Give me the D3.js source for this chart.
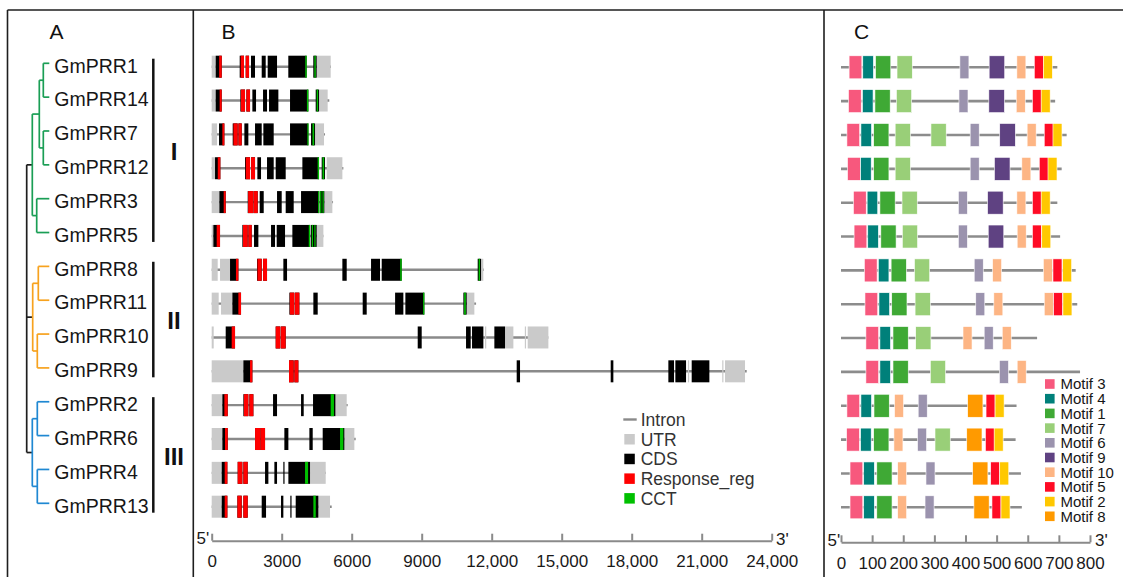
<!DOCTYPE html>
<html><head><meta charset="utf-8">
<script src="https://cdn.jsdelivr.net/npm/d3@7"></script>
<style>
body{margin:0;background:#fff}
svg{display:block}
text{font-family:"Liberation Sans",Arial,Helvetica,sans-serif}
</style>
</head><body>
<svg id="fig" width="1123" height="577"></svg>
<script>
// ---------------- data ----------------
const genes = ["GmPRR1","GmPRR14","GmPRR7","GmPRR12","GmPRR3","GmPRR5","GmPRR8",
               "GmPRR11","GmPRR10","GmPRR9","GmPRR2","GmPRR6","GmPRR4","GmPRR13"];

// phylogeny with branch lengths
const newick = "((((GmPRR1:6,GmPRR14:6):4,(GmPRR7:6,GmPRR12:6):4):7,(GmPRR3:12.6,GmPRR5:12.6):4.4):5.6," +
               "((GmPRR8:11,GmPRR11:11):5.6,(GmPRR10:12,GmPRR9:12):4.6):6," +
               "((GmPRR2:12,GmPRR6:12):5,(GmPRR4:12,GmPRR13:12):5):5.6);";

const cladeNames = ["I","II","III"];
const cladeMembers = [
  ["GmPRR1","GmPRR14","GmPRR7","GmPRR12","GmPRR3","GmPRR5"],
  ["GmPRR8","GmPRR11","GmPRR10","GmPRR9"],
  ["GmPRR2","GmPRR6","GmPRR4","GmPRR13"]
];

// gene structures (bp)
const geneLength = [5113,5040,4857,5643,5200,4786,11657,11330,14426,22929,5829,6171,4886,5143];

const utrRegions = [
  [[0,171],[4500,5100]],
  [[0,171],[4600,4970]],
  [[0,229],[4429,4814]],
  [[0,143],[4929,5600]],
  [[0,329],[4829,5171]],
  [[0,71],[4500,4786]],
  [[0,257],[357,786],[11543,11640]],
  [[0,300],[400,886],[10929,11257]],
  [[0,86],[11715,11750],[12571,12929],[13420,13455],[13543,14429]],
  [[0,1357],[20410,20450],[21880,21920],[22000,22857]],
  [[0,457],[5286,5786]],
  [[0,457],[5686,6114]],
  [[0,429],[4214,4886]],
  [[0,429],[4571,5071]]
];

const cdsRegions = [
  [[171,430],[1200,1384],[1457,1600],[1684,1856],[2143,2314],[2400,2800],[3283,4071],[4354,4500]],
  [[171,429],[1228,1428],[1486,1643],[1743,1900],[2200,2371],[2457,2857],[3357,4143],[4457,4600]],
  [[314,543],[900,1114],[1143,1286],[1400,1571],[1857,2143],[2214,2657],[3357,4143],[4257,4429]],
  [[143,371],[1428,1643],[1686,1857],[1957,2114],[2371,2657],[2743,3171],[3886,4600],[4714,4857]],
  [[329,600],[1543,1786],[1800,1971],[2057,2229],[2800,3000],[3171,3514],[3829,4600],[4629,4829]],
  [[71,357],[1314,1543],[1571,1714],[1814,2000],[2543,2714],[2786,3143],[3457,4214],[4243,4500]],
  [[786,1143],[1943,2143],[2200,2371],[3071,3229],[5600,5786],[6829,7214],[7286,8143],[11400,11543]],
  [[886,1257],[3329,3543],[3571,3757],[4357,4543],[6471,6643],[7860,8214],[8300,9114],[10786,10929]],
  [[600,1000],[2743,2943],[2971,3171],[8829,9000],[10900,11100],[11157,11643],[12114,12571]],
  [[1357,1743],[3314,3514],[3543,3714],[13071,13214],[17100,17214],[19571,19814],[19871,20329],[20571,21329]],
  [[457,686],[1357,1571],[1614,1786],[2629,2800],[3829,3943],[4343,5300]],
  [[457,686],[1857,2100],[2114,2286],[3114,3286],[4186,4329],[4757,5686]],
  [[429,671],[1114,1314],[1357,1543],[2286,2429],[2686,2800],[3070,3110],[3286,4214]],
  [[429,671],[1100,1286],[1357,1543],[2143,2329],[2971,3071],[3370,3410],[3600,4571]]
];

const responseRegRegions = [
  [[320,430],[1240,1384],[1457,1600]],
  [[340,429],[1250,1428],[1486,1643]],
  [[457,543],[930,1114],[1143,1286]],
  [[260,371],[1460,1643],[1686,1857]],
  [[514,600],[1560,1786],[1800,1971]],
  [[214,357],[1340,1543],[1571,1714]],
  [[1040,1143],[1960,2143],[2200,2371]],
  [[1143,1257],[3350,3543],[3571,3757]],
  [[857,1000],[2743,2943],[2971,3171]],
  [[1643,1743],[3314,3514],[3543,3714]],
  [[543,686],[1380,1571],[1614,1786]],
  [[570,686],[1857,2100],[2114,2286]],
  [[557,671],[1114,1314],[1357,1543]],
  [[557,671],[1100,1286],[1357,1543]]
];

const cctRegions = [
  [[4010,4071],[4400,4460]],
  [[4080,4143],[4500,4560]],
  [[4100,4143],[4320,4390]],
  [[4540,4600],[4750,4820]],
  [[4560,4600],[4650,4700],[4750,4790]],
  [[4160,4214],[4290,4330],[4400,4440]],
  [[8080,8143],[11440,11500]],
  [[9060,9114],[10820,10890]],
  [],
  [],
  [[5100,5240]],
  [[5500,5640]],
  [[4000,4130]],
  [[4357,4460]]
];

const geneTicks = [0,3000,6000,9000,12000,15000,18000,21000,24000];
const geneTickLabels = ["0","3000","6000","9000","12,000","15,000","18,000","21,000","24,000"];

// conserved motifs (aa)
const proteinLength = [695,688,725,709,695,704,754,759,630,768,564,561,578,581];
const motifOrder = [3,4,1,7,6,9,10,5,2,8];
const motifLength = {1:49,2:29,3:41,4:34,5:29,6:29,7:49,8:49,9:50,10:29};
const motifSites = [
  [[3,26],[4,70],[1,111],[7,180],[6,382],[9,476],[10,565],[5,621],[2,650]],
  [[3,24],[4,69],[1,109],[7,178],[6,379],[9,475],[10,563],[5,615],[2,643]],
  [[3,19],[4,64],[1,105],[7,174],[7,289],[6,415],[9,510],[10,598],[5,653],[2,681]],
  [[3,21],[4,63],[1,105],[7,174],[6,415],[9,493],[10,581],[5,637],[2,665]],
  [[3,40],[4,84],[1,125],[7,196],[6,377],[9,471],[10,565],[5,615],[2,643]],
  [[3,42],[4,86],[1,128],[7,197],[6,377],[9,473],[10,566],[5,615],[2,645]],
  [[3,75],[4,120],[1,161],[7,236],[6,428],[10,487],[10,650],[5,681],[2,712]],
  [[3,77],[4,122],[1,163],[7,238],[6,433],[10,491],[10,653],[5,683],[2,713]],
  [[3,80],[4,125],[1,167],[7,240],[10,392],[6,460],[10,518]],
  [[3,80],[4,125],[1,167],[7,287],[6,509],[10,566]],
  [[3,19],[4,64],[1,106],[10,172],[6,248],[8,407],[5,466],[2,495]],
  [[3,18],[4,63],[1,105],[10,170],[6,246],[7,302],[8,404],[5,464],[2,492]],
  [[3,29],[4,73],[1,115],[10,182],[6,273],[8,423],[5,481],[2,510]],
  [[3,29],[4,73],[1,115],[10,182],[6,270],[8,427],[5,485],[2,514]]
];
const motifTicks = [0,100,200,300,400,500,600,700,800];

const structureLegend = ["Intron","UTR","CDS","Response_reg","CCT"];

// ---------------- styles ----------------
const cladeColor = {I:"#1a9e55", II:"#f7a21e", III:"#1f88d2"};
const featureColor = {Intron:"#8a8a8a", UTR:"#cacaca", CDS:"#000000", Response_reg:"#ff0000", CCT:"#00c000"};
const motifColor = {3:"#f7587d",4:"#00807a",1:"#3fa935",7:"#99cf78",6:"#9b93ae",
                    9:"#5f4282",10:"#fdb584",5:"#ff0b25",2:"#ffc800",8:"#ff9a00"};
const FONT = '"Liberation Sans",Arial,Helvetica,sans-serif';

const svg = d3.select("#fig");
svg.append("rect").attr("width",1123).attr("height",577).attr("fill","#fff");

const yRow = d3.scalePoint().domain(genes).range([66.7, 506.7]);

// ---------------- frame ----------------
const frame = svg.append("g").attr("stroke","#1e1e1e").attr("stroke-width",1.6);
frame.append("line").attr("x1",7.5).attr("x2",1123).attr("y1",10).attr("y2",10);
[7.5,193.3,824].forEach(x => frame.append("line").attr("x1",x).attr("x2",x).attr("y1",10).attr("y2",577));

const panelLabels = [["A",49.5],["B",221.5],["C",854]];
svg.selectAll("text.panel").data(panelLabels).join("text")
  .attr("class","panel").attr("x",d=>d[1]).attr("y",38.5)
  .attr("font-size",21).attr("fill","#111").text(d=>d[0]);

// ---------------- A: tree ----------------
function parseNewick(s){
  let i = 0;
  function node(){
    const n = {};
    if (s[i] === "("){
      i++; n.children = [];
      n.children.push(node());
      while (s[i] === ","){ i++; n.children.push(node()); }
      i++; // ')'
    }
    let name = "";
    while (i < s.length && !":,);".includes(s[i])) name += s[i++];
    if (name) n.name = name;
    if (s[i] === ":"){
      i++; let num = "";
      while (i < s.length && !",);".includes(s[i])) num += s[i++];
      n.length = +num;
    }
    return n;
  }
  return node();
}
const root = d3.hierarchy(parseNewick(newick));
root.eachBefore(d => { d.dist = d.parent ? d.parent.dist + (d.data.length || 0) : 0; });
const maxDist = d3.max(root.leaves(), d => d.dist);
const xTree = d3.scaleLinear().domain([0, maxDist]).range([26.7, 49.3]);
root.eachAfter(d => {
  if (d.children) d.yy = (d.children[0].yy + d.children[d.children.length-1].yy) / 2;
  else d.yy = yRow(d.data.name) - 3.4;
});
function nodeColor(d){
  if (d.depth === 0) return "#1e1e1e";
  const top = d.ancestors().find(a => a.depth === 1);
  const leaf = top.leaves()[0].data.name;
  const k = cladeMembers.findIndex(m => m.includes(leaf));
  return cladeColor[cladeNames[k]];
}
const treeG = svg.append("g").attr("fill","none").attr("stroke-width",1.7);
root.descendants().filter(d => d.parent).forEach(d => {
  treeG.append("path")
    .attr("d", `M${xTree(d.parent.dist)},${d.yy}H${xTree(d.dist)}`)
    .attr("stroke", nodeColor(d.parent));
});
root.descendants().filter(d => d.children).forEach(d => {
  const c = d.children;
  treeG.append("path")
    .attr("d", `M${xTree(d.dist)},${c[0].yy}V${c[c.length-1].yy}`)
    .attr("stroke", nodeColor(d));
});
svg.append("g").selectAll("text").data(genes).join("text")
  .attr("x",54.3).attr("y",d=>yRow(d)-1).attr("dy","0.35em")
  .attr("font-size",19.5).attr("fill","#161616").text(d=>d);

// clade brackets
const bracketG = svg.append("g");
cladeMembers.forEach((m,k) => {
  const y0 = yRow(m[0]) - 8, y1 = yRow(m[m.length-1]) + 6;
  bracketG.append("line").attr("x1",153.3).attr("x2",153.3).attr("y1",y0).attr("y2",y1)
    .attr("stroke","#111").attr("stroke-width",2.5);
  bracketG.append("text").attr("x",174).attr("y",(yRow(m[0])+yRow(m[m.length-1]))/2)
    .attr("dy","0.36em").attr("text-anchor","middle").attr("font-size",24).attr("font-weight","bold")
    .attr("fill","#111").text(cladeNames[k]);
});

// ---------------- B: gene structures ----------------
const xB = d3.scaleLinear().domain([0,24000]).range([211.7,771.7]);
const EX = 22;
const geneG = svg.append("g");
genes.forEach((g,i) => {
  const row = geneG.append("g").attr("transform",`translate(0,${yRow(g)})`);
  row.append("line").attr("x1",xB(0)).attr("x2",xB(geneLength[i])).attr("y1",0).attr("y2",0)
    .attr("stroke",featureColor.Intron).attr("stroke-width",2.4);
  const layers = [[utrRegions[i],"UTR"],[cdsRegions[i],"CDS"],[responseRegRegions[i],"Response_reg"],[cctRegions[i],"CCT"]];
  layers.forEach(([regs,key]) => {
    row.selectAll(null).data(regs).join("rect")
      .attr("x",d=>xB(d[0])).attr("y",-EX/2)
      .attr("width",d=>Math.max(1.2, xB(d[1])-xB(d[0]))).attr("height",EX)
      .attr("fill",featureColor[key]);
  });
});

const axisB = d3.axisBottom(xB).tickValues(geneTicks)
  .tickFormat((d,i)=>geneTickLabels[i]).tickSizeInner(-7).tickSizeOuter(0).tickPadding(14);
const axBG = svg.append("g").attr("transform","translate(0,540.7)").call(axisB);
axBG.select(".domain").attr("stroke","#8a8a8a").attr("stroke-width",2);
axBG.selectAll(".tick line").attr("stroke","#8a8a8a").attr("stroke-width",2);
axBG.selectAll(".tick text").attr("font-size",17).attr("fill","#1a1a1a").attr("font-family",FONT);
svg.append("text").attr("x",196.5).attr("y",543.5).attr("font-size",17).attr("fill","#1a1a1a").text("5'");
svg.append("text").attr("x",776).attr("y",544.5).attr("font-size",17).attr("fill","#1a1a1a").text("3'");

// legend for gene features
const legB = svg.append("g").attr("transform","translate(624,0)");
structureLegend.forEach((k,i) => {
  const cy = 419.5 + i*19.7;
  if (k === "Intron"){
    legB.append("line").attr("x1",-0.7).attr("x2",12.7).attr("y1",cy).attr("y2",cy)
      .attr("stroke",featureColor.Intron).attr("stroke-width",2.4);
  } else {
    legB.append("rect").attr("x",0.3).attr("y",cy-5.2).attr("width",10.5).attr("height",10.5)
      .attr("fill",featureColor[k]);
  }
  legB.append("text").attr("x",16.7).attr("y",cy).attr("dy","0.36em")
    .attr("font-size",17.5).attr("fill","#333").text(k);
});

// ---------------- C: motifs ----------------
const xC = d3.scaleLinear().domain([0,800]).range([841,1090]);
const MH = 23;
const motifG = svg.append("g");
genes.forEach((g,i) => {
  const row = motifG.append("g").attr("transform",`translate(0,${yRow(g)+0.6})`);
  row.append("line").attr("x1",xC(0)).attr("x2",xC(proteinLength[i])).attr("y1",0).attr("y2",0)
    .attr("stroke","#8c8c8c").attr("stroke-width",2.6);
  row.selectAll("rect").data(motifSites[i]).join("rect")
    .attr("x",d=>xC(d[1])).attr("y",-MH/2)
    .attr("width",d=>xC(d[1]+motifLength[d[0]])-xC(d[1])).attr("height",MH)
    .attr("fill",d=>motifColor[d[0]]).attr("stroke","#fff").attr("stroke-width",0.6);
});

const axisC = d3.axisBottom(xC).tickValues(motifTicks)
  .tickFormat(d=>String(d)).tickSizeInner(-7).tickSizeOuter(0).tickPadding(15);
const axCG = svg.append("g").attr("transform","translate(0,542.3)").call(axisC);
axCG.select(".domain").attr("stroke","#8a8a8a").attr("stroke-width",2);
axCG.selectAll(".tick line").attr("stroke","#8a8a8a").attr("stroke-width",2);
axCG.selectAll(".tick text").attr("font-size",17).attr("fill","#1a1a1a").attr("font-family",FONT);
svg.append("text").attr("x",827.5).attr("y",546).attr("font-size",17).attr("fill","#1a1a1a").text("5'");
svg.append("text").attr("x",1095).attr("y",546).attr("font-size",17).attr("fill","#1a1a1a").text("3'");

// motif legend
const legC = svg.append("g");
motifOrder.forEach((m,i) => {
  const cy = 384 + i*14.7;
  legC.append("rect").attr("x",1045).attr("y",cy-4.8).attr("width",9.6).attr("height",9.6)
    .attr("fill",motifColor[m]);
  legC.append("text").attr("x",1060.5).attr("y",cy).attr("dy","0.36em")
    .attr("font-size",15).attr("fill","#161616").text("Motif " + m);
});
</script>
</body></html>
